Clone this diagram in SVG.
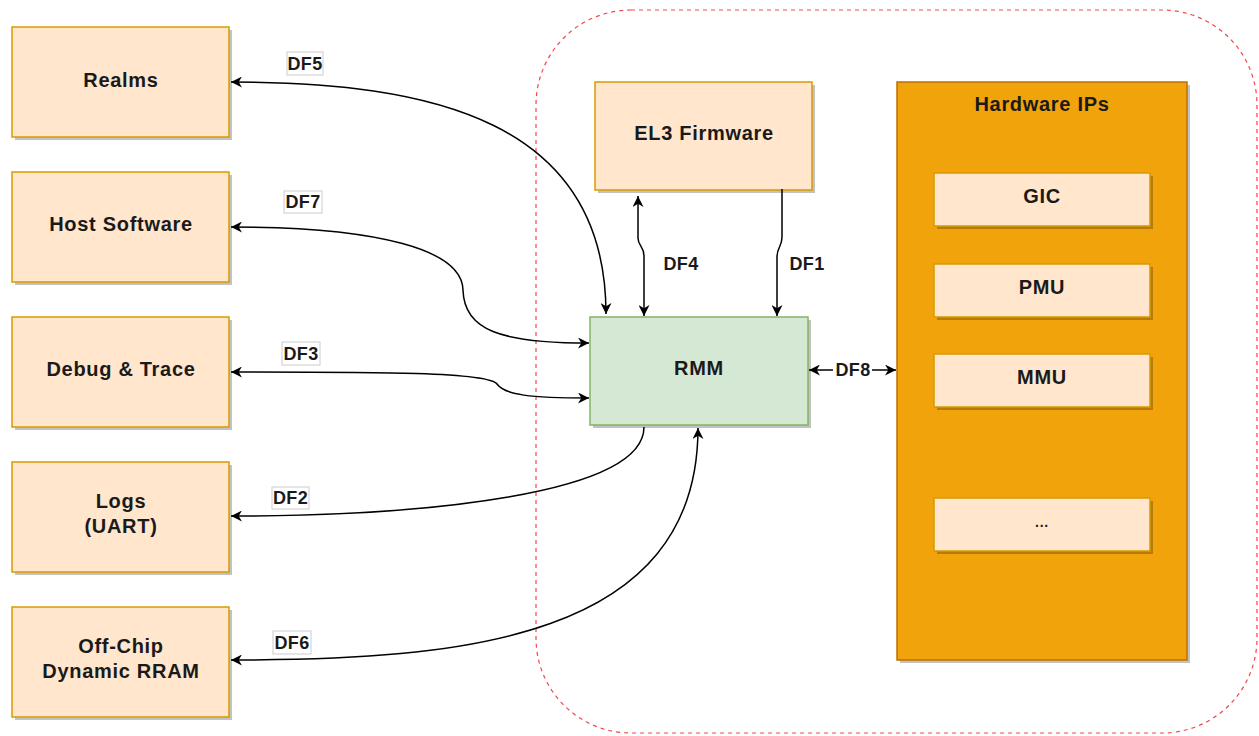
<svg xmlns="http://www.w3.org/2000/svg" width="1259" height="736" viewBox="0 0 1259 736">
<style>
.box{fill:#ffe6cc;stroke:#d79b00;stroke-width:1.5}
.rmm{fill:#d5e8d4;stroke:#82b366;stroke-width:1.5}
.hw{fill:#f0a30a;stroke:#bd7000;stroke-width:1.5}
.sh{fill:#000;opacity:0.24}
.t{font-family:"Liberation Sans",Arial,sans-serif;font-weight:bold;font-size:20px;letter-spacing:0.7px;fill:#1a1a1a;text-anchor:middle;dominant-baseline:central}
.lt{font-family:"Liberation Sans",Arial,sans-serif;font-weight:bold;font-size:18px;letter-spacing:0.4px;fill:#1a1a1a;text-anchor:middle;dominant-baseline:central}
.lb{fill:#fff;stroke:#cccccc;stroke-width:1}
.c{fill:none;stroke:#000;stroke-width:1.5}
.bd{fill:none;stroke:#f04848;stroke-width:1.2;stroke-dasharray:4 4}
</style>
<defs>
<marker id="ar" viewBox="0 0 10 10" refX="10" refY="5" markerWidth="12" markerHeight="11" markerUnits="userSpaceOnUse" orient="auto-start-reverse">
<path d="M0,0 L10,5 L0,10 L3,5 z" fill="#000"/>
</marker>
</defs>
<rect width="1259" height="736" fill="#fff"/>
<rect id="boundary" class="bd" x="536" y="10" width="721" height="723" rx="95" ry="95"/>

<g id="realms"><rect class="sh" x="15" y="30" width="217" height="110"/><rect class="box" x="12" y="27" width="217" height="110"/><text class="t" x="121" y="80">Realms</text></g>
<g id="host"><rect class="sh" x="15" y="175" width="217" height="110"/><rect class="box" x="12" y="172" width="217" height="110"/><text class="t" x="121" y="224">Host Software</text></g>
<g id="debug"><rect class="sh" x="15" y="320" width="217" height="110"/><rect class="box" x="12" y="317" width="217" height="110"/><text class="t" x="121" y="369">Debug &amp; Trace</text></g>
<g id="logs"><rect class="sh" x="15" y="465" width="217" height="110"/><rect class="box" x="12" y="462" width="217" height="110"/><text class="t" x="121" y="501">Logs</text><text class="t" x="121" y="526">(UART)</text></g>
<g id="offchip"><rect class="sh" x="15" y="610" width="217" height="110"/><rect class="box" x="12" y="607" width="217" height="110"/><text class="t" x="121" y="646">Off-Chip</text><text class="t" x="121" y="671">Dynamic RRAM</text></g>

<g id="el3"><rect class="sh" x="598" y="85" width="217" height="108"/><rect class="box" x="595" y="82" width="217" height="108"/><text class="t" x="704" y="133">EL3 Firmware</text></g>
<g id="rmm"><rect class="sh" x="593" y="320" width="218" height="108"/><rect class="rmm" x="590" y="317" width="218" height="108"/><text class="t" x="699" y="368">RMM</text></g>

<g id="hardware"><rect class="sh" x="900" y="85" width="290" height="578"/><rect class="hw" x="897" y="82" width="290" height="578"/><text class="t" x="1042" y="104">Hardware IPs</text></g>
<g id="gic"><rect class="sh" x="937" y="176" width="216" height="53"/><rect class="box" x="934" y="173" width="216" height="53"/><text class="t" x="1042" y="196">GIC</text></g>
<g id="pmu"><rect class="sh" x="937" y="267" width="216" height="53"/><rect class="box" x="934" y="264" width="216" height="53"/><text class="t" x="1042" y="287">PMU</text></g>
<g id="mmu"><rect class="sh" x="937" y="357" width="216" height="53"/><rect class="box" x="934" y="354" width="216" height="53"/><text class="t" x="1042" y="377">MMU</text></g>
<g id="more"><rect class="sh" x="937" y="501" width="216" height="53"/><rect class="box" x="934" y="498" width="216" height="53"/><text class="t" x="1042" y="522" style="font-size:14px">...</text></g>

<g id="connectors">
<path class="c" d="M231 82 C430 82 606 120 606 314" marker-start="url(#ar)" marker-end="url(#ar)"/>
<path class="c" d="M231 227 C380 227 462 250 463 290 C464 330 500 343 589 343" marker-start="url(#ar)" marker-end="url(#ar)"/>
<path class="c" d="M231 372 C380 372 488 372 497 384 C505 395 530 398 589 398" marker-start="url(#ar)" marker-end="url(#ar)"/>
<path class="c" d="M644 427 C644 495 420 516 231 516" marker-end="url(#ar)"/>
<path class="c" d="M231 660 C460 660 698 640 698 428" marker-start="url(#ar)" marker-end="url(#ar)"/>
<path class="c" d="M638 196 L638 238 C638 246 644 246 644 256 L644 316" marker-start="url(#ar)" marker-end="url(#ar)"/>
<path class="c" d="M782 189 L782 237 C782 247 777 247 777 257 L777 316" marker-end="url(#ar)"/>
<path class="c" d="M809 370 L896 370" marker-start="url(#ar)" marker-end="url(#ar)"/>
<rect class="lb" x="287" y="52" width="36" height="23"/><text class="lt" x="305" y="63.5">DF5</text>
<rect class="lb" x="284" y="191" width="38" height="22"/><text class="lt" x="303" y="202">DF7</text>
<rect class="lb" x="282" y="342" width="38" height="23"/><text class="lt" x="301" y="353.5">DF3</text>
<rect class="lb" x="272" y="487" width="37" height="22"/><text class="lt" x="290.5" y="498">DF2</text>
<rect class="lb" x="273" y="631" width="38" height="23"/><text class="lt" x="292" y="642.5">DF6</text>
<text class="lt" x="681" y="264">DF4</text>
<text class="lt" x="807" y="264">DF1</text>
<rect x="833" y="361" width="39" height="18" fill="#fff"/><text class="lt" x="853" y="370">DF8</text>
</g>
</svg>
